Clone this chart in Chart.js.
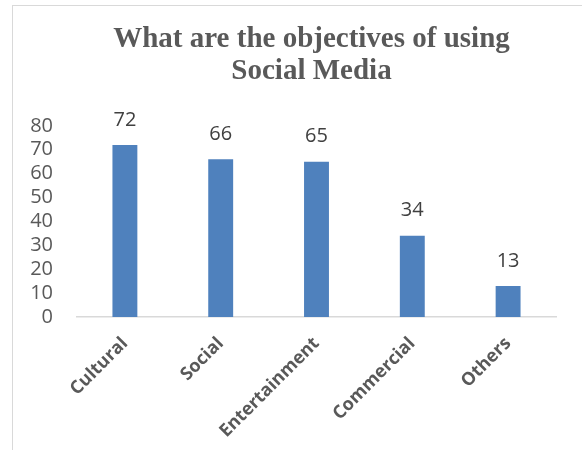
<!DOCTYPE html>
<html>
<head>
<meta charset="utf-8">
<script src="https://cdn.jsdelivr.net/npm/chart.js@4"></script>
<style>
body { margin:0; background:#fff; }
.frame { position:absolute; left:12px; top:5px; width:620px; height:500px; border-left:1px solid #d9d9d9; border-top:1px solid #d9d9d9; }
#chart { position:absolute; left:0; top:0; }
</style>
</head>
<body>
<div class="frame"></div>
<canvas id="chart" width="582" height="450"></canvas>
<script>
    // data
    const categories = ['Cultural', 'Social', 'Entertainment', 'Commercial', 'Others'];
    const counts = [72, 66, 65, 34, 13];
    const titleLines = ['What are the objectives of using', 'Social Media'];

    // value labels above each bar
    const valueLabels = {
        id: 'valueLabels',
        afterDatasetsDraw(chart) {
            const ctx = chart.ctx;
            const meta = chart.getDatasetMeta(0);
            ctx.save();
            ctx.font = '20px "Open Sans"';
            ctx.fillStyle = '#404040';
            ctx.textAlign = 'center';
            ctx.textBaseline = 'middle';
            meta.data.forEach((bar, i) => {
                ctx.fillText(String(counts[i]), bar.x, bar.y - 25);
            });
            ctx.restore();
        }
    };

    // the original title sits a bit right of the canvas centre
    const titleShift = {
        id: 'titleShift',
        afterLayout(chart) {
            if (chart.titleBlock) {
                chart.titleBlock.left = 67;
                chart.titleBlock.right = chart.chartArea.right;
            }
        }
    };

    new Chart(document.getElementById('chart'), {
        type: 'bar',
        data: {
            labels: categories,
            datasets: [{
                data: counts,
                backgroundColor: '#4F81BD',
                borderWidth: 0,
                barPercentage: 0.26,
                categoryPercentage: 1
            }]
        },
        options: {
            responsive: false,
            animation: false,
            layout: { padding: { left: 12, right: 26, top: 0, bottom: 0 } },
            plugins: {
                legend: { display: false },
                tooltip: { enabled: false },
                title: {
                    display: true,
                    text: titleLines,
                    color: '#595959',
                    font: { family: '"Liberation Serif", "Times New Roman", serif', size: 29, weight: 'bold', lineHeight: 1.1 },
                    padding: { top: 24, bottom: 38 }
                }
            },
            scales: {
                x: {
                    grid: { display: false, drawTicks: false },
                    border: { display: true, color: '#d9d9d9', width: 1.5 },
                    ticks: {
                        color: '#595959',
                        font: { family: '"Open Sans"', size: 18, weight: 'bold' },
                        minRotation: 45,
                        maxRotation: 45,
                        padding: 16
                    },
                    afterFit(scale) { scale.height = 133; }
                },
                y: {
                    min: 0,
                    max: 80,
                    grid: { display: false, drawTicks: false },
                    border: { display: false },
                    ticks: {
                        stepSize: 10,
                        autoSkip: false,
                        color: '#595959',
                        font: { family: '"Open Sans"', size: 20 },
                        padding: 24
                    },
                    afterFit(scale) { scale.width = 65; }
                }
            }
        },
        plugins: [valueLabels, titleShift]
    });
</script>
</body>
</html>
